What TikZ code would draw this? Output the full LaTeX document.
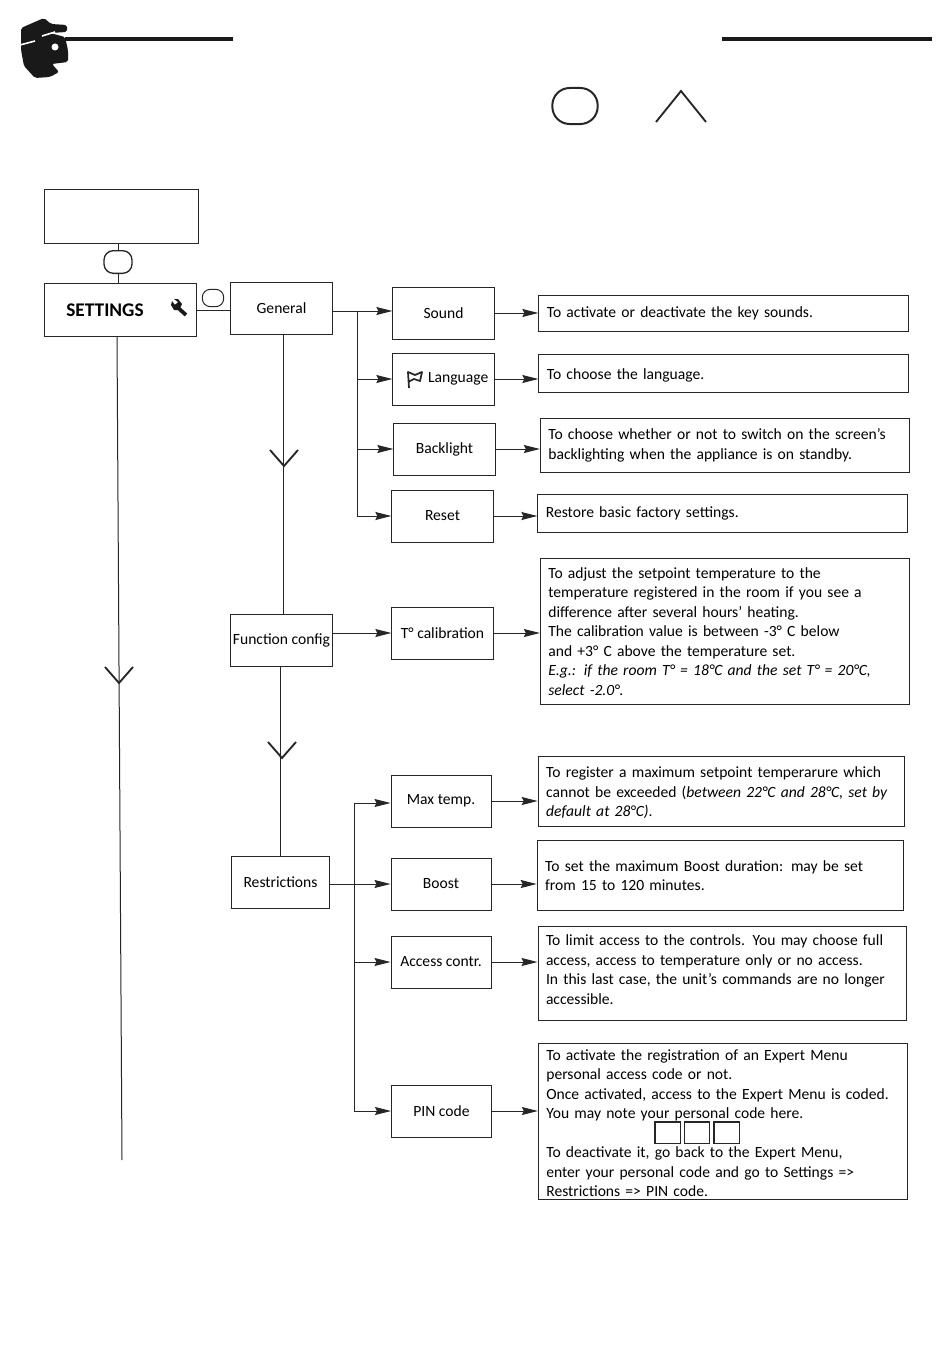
\documentclass[tikz,border=0pt]{standalone}
\usepackage{fontspec}
\setmainfont{Carlito}
\usetikzlibrary{arrows.meta,calc}

\tikzset{
	ink/.style={draw=black!85,line width=0.75pt},
	menubox/.style={ink,minimum width=76pt,minimum height=39pt,inner sep=0pt,font=\fontsize{11.7}{14}\selectfont},
	infobox/.style={ink,text width=265pt,inner xsep=6pt,inner ysep=0pt,align=left,font=\fontsize{11.7}{14.6}\selectfont},
	keybox/.style={ink,rounded corners=#1,inner sep=0pt},
	codebox/.style={ink,line width=1pt,minimum width=19pt,minimum height=16pt,inner sep=0pt},
	flow/.style={ink,-{Stealth[length=12pt,width=6pt,inset=1.5pt]}},
	bar/.style={black!90,line width=3.6pt},
	chevron/.style={ink,line width=1.4pt},
}

\begin{document}
\begin{tikzpicture}[x=0.75pt,y=-0.75pt]
		\useasboundingbox (0,0) rectangle (950,1370);
		%
		\draw[bar] (65,39) -- (233,39);
		\draw[bar] (722,39) -- (932,39);
		\fill[black!90,rounded corners=1.5pt] (21,28) -- (44,18) -- (51,24) -- (67,25) -- (67,32) -- (50,33) -- (65,37) -- (68,50) -- (68,62) -- (52,64) -- (59,72) -- (50,77) -- (35,78) -- (24,66) -- (21,50) -- cycle;
		\draw[white,line width=1.2pt] (20,45) -- (35,41) (42,36) -- (55,32);
		\fill[white] (55,47) circle (3.5);
		%
		\node[keybox=13pt,line width=1.5pt,minimum width=34pt,minimum height=27pt] (keytop) at (575,106) {};
		\coordinate (uptip) at (681,91);
		\draw[chevron] ($(uptip)+(-25,31)$) -- (uptip) -- ($(uptip)+(25,31)$);
		%
		\node[ink,minimum width=115pt,minimum height=40.5pt,inner sep=0pt] (display) at (121.5,216) {};
		\node[keybox=7pt,line width=1pt,minimum width=21pt,minimum height=17pt] (keydown) at (118,262) {};
		\node[menubox,minimum width=114pt,minimum height=40pt,font=\fontsize{14.5}{16}\selectfont\bfseries] (settings) at (120,310) {SETTINGS\hspace*{22.5pt}};
		\node[keybox=6pt,minimum width=16pt,minimum height=13pt] (keyright) at (213,298) {};
		\draw[line width=2.8pt,black!90] (175,305) -- (186,315);
		\fill[black!90] (171,305) -- (172,301) -- (175,305) -- (178,302) -- (174,299) -- (178,299) -- (182,304) -- (179,310) -- (174,310) -- cycle;
		%
		\node[menubox] (general) at (281.5,308.5) {General};
		\node[menubox] (sound) at (443.5,313) {Sound};
		\node[menubox] (language) at (443.5,379) {\hspace*{22pt}Language};
		\node[menubox] (backlight) at (444.5,449) {Backlight};
		\node[menubox] (reset) at (442.5,516) {Reset};
		\draw[ink,line width=1.3pt,line join=round] (409,388) -- (408,372) -- (415,375) -- (422,372) -- (420,381) -- (414,379) -- (408,382);
		%
		\node[infobox,minimum height=27pt] (soundinfo) at (723.5,313) {To activate or deactivate the key sounds.};
		\node[infobox,minimum height=28pt] (languageinfo) at (723.5,373.5) {\rule{0pt}{11.5pt}To choose the language.};
		\node[infobox,minimum height=41pt] (backlightinfo) at (725,445.5) {To choose whether or not to switch on the screen's\\backlighting when the appliance is on standby.};
		\node[infobox,minimum height=28pt] (resetinfo) at (722.5,513.5) {Restore basic factory settings.};
		%
		\node[menubox] (function) at (281.5,640.5) {Function config};
		\node[menubox] (calibration) at (442.5,633) {T° calibration};
		\node[infobox,minimum height=110pt] (calibrationinfo) at (725,631.5) {To adjust the setpoint temperature to the\\temperature registered in the room if you see a\\difference after several hours' heating.\\The calibration value is between -3° C below\\and +3° C above the temperature set.\\\textit{E.g.: if the room T° = 18°C and the set T° = 20°C,}\\\textit{select -2.0°.}};
		%
		\node[menubox,minimum width=74pt] (restrictions) at (280.5,882) {Restrictions};
		\node[menubox,minimum width=75pt] (maxtemp) at (441,801) {Max temp.};
		\node[menubox,minimum width=75pt] (boost) at (441,884) {Boost};
		\node[menubox,minimum width=75pt] (access) at (441,962) {Access contr.};
		\node[menubox,minimum width=75pt] (pin) at (441.5,1111) {PIN code};
		%
		\node[infobox,text width=263pt,minimum height=53pt] (maxtempinfo) at (721.5,791.5) {\rule{0pt}{10pt}To register a maximum setpoint temperarure which\\cannot be exceeded (\textit{between 22°C and 28°C, set by}\\\textit{default at 28°C)}.};
		\node[infobox,text width=263pt,minimum height=53pt] (boostinfo) at (720.5,875.5) {To set the maximum Boost duration: may be set\\from 15 to 120 minutes.};
		\node[infobox,text width=264pt,minimum height=70pt] (accessinfo) at (722,973.5) {To limit access to the controls. You may choose full\\access, access to temperature only or no access.\\In this last case, the unit's commands are no longer\\accessible.\rule[-6pt]{0pt}{6pt}};
		\node[infobox,minimum height=117pt] (pininfo) at (723,1121.5) {\rule{0pt}{10.5pt}To activate the registration of an Expert Menu\\personal access code or not.\\Once activated, access to the Expert Menu is coded.\\You may note your personal code here.\\[14.6pt]To deactivate it, go back to the Expert Menu,\\enter your personal code and go to Settings =>\\Restrictions => PIN code.};
		\node[codebox] (codea) at (667.5,1132.5) {};
		\node[codebox] (codeb) at (697,1132.5) {};
		\node[codebox] (codec) at (726.5,1132.5) {};
		%
		\coordinate (mainend) at (122,1160);
		\coordinate (busa) at (357,311);
		\coordinate (busb) at (354,803);
		\coordinate (maintip) at (119,683);
		\coordinate (generaltip) at (284,466);
		\coordinate (functiontip) at (282,758);
		%
		\draw[ink] (keydown.north |- display.south) -- (keydown.north);
		\draw[ink] (keydown.south) -- (keydown.south |- settings.north);
		\draw[ink] (settings.east) -- (settings.east -| general.west);
		\draw[ink] (117,337) -- (mainend);
		\draw[ink] (283,334) -- (283,615);
		\draw[ink] (280,666) -- (280,856);
		\draw[chevron] ($(maintip)+(-14,-16)$) -- (maintip) -- ($(maintip)+(14,-16)$);
		\draw[chevron] ($(generaltip)+(-14,-16)$) -- (generaltip) -- ($(generaltip)+(14,-16)$);
		\draw[chevron] ($(functiontip)+(-14,-16)$) -- (functiontip) -- ($(functiontip)+(14,-16)$);
		%
		\draw[flow] (general.east |- busa) -- (busa -| sound.west);
		\draw[flow] (busa) |- (language.west);
		\draw[flow] (busa) |- (backlight.west);
		\draw[flow] (busa) |- (reset.west);
		\draw[flow] (busb) -- (busb -| maxtemp.west);
		\draw[flow] (restrictions.east |- boost.west) -- (boost.west);
		\draw[flow] (busb) |- (access.west);
		\draw[flow] (busb) |- (pin.west);
		%
		\draw[flow] (sound.east) -- (sound.east -| soundinfo.west);
		\draw[flow] (language.east) -- (language.east -| languageinfo.west);
		\draw[flow] (backlight.east) -- (backlight.east -| backlightinfo.west);
		\draw[flow] (reset.east) -- (reset.east -| resetinfo.west);
		\draw[flow] (function.east |- calibration.west) -- (calibration.west);
		\draw[flow] (calibration.east) -- (calibration.east -| calibrationinfo.west);
		\draw[flow] (maxtemp.east) -- (maxtemp.east -| maxtempinfo.west);
		\draw[flow] (boost.east) -- (boost.east -| boostinfo.west);
		\draw[flow] (access.east) -- (access.east -| accessinfo.west);
		\draw[flow] (pin.east) -- (pin.east -| pininfo.west);
\end{tikzpicture}
\end{document}
